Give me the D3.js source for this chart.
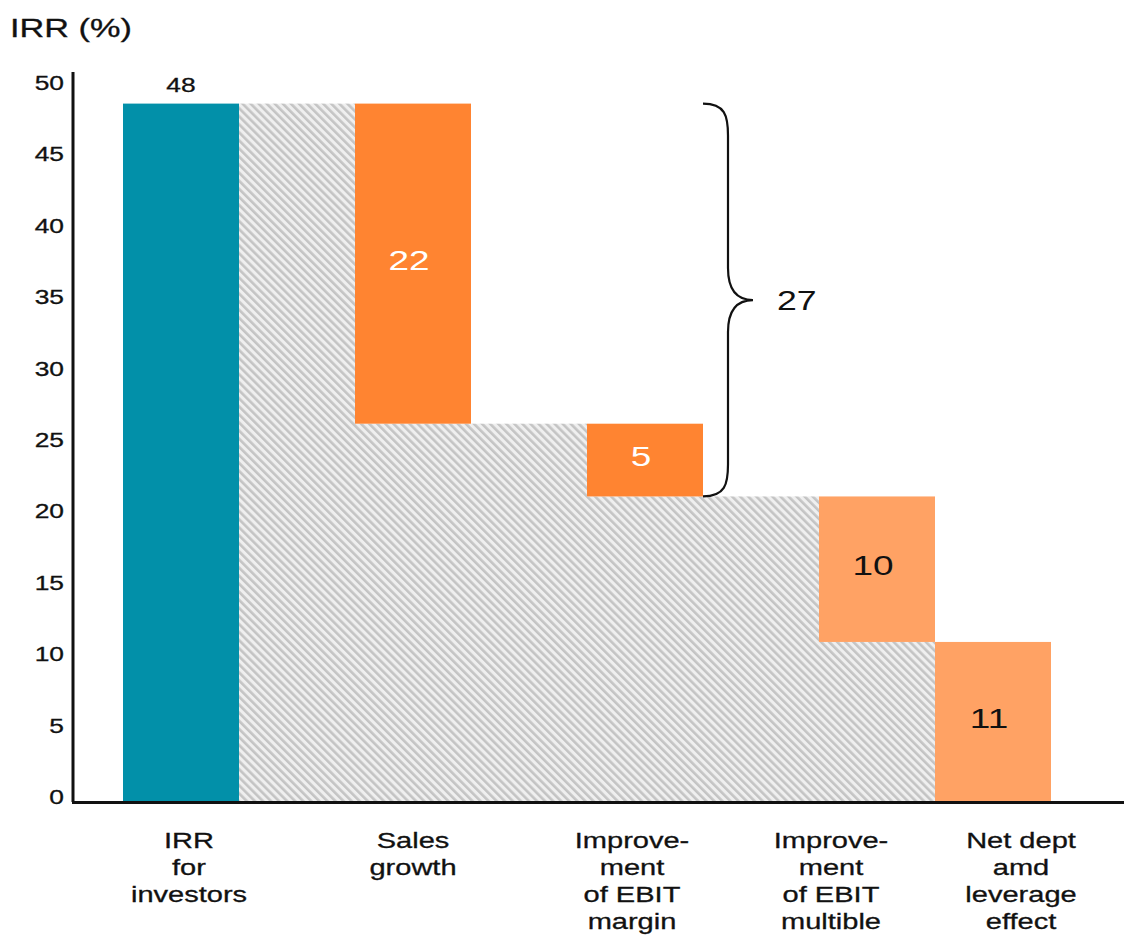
<!DOCTYPE html>
<html>
<head>
<meta charset="utf-8">
<script src="https://cdn.jsdelivr.net/npm/d3@7"></script>
<style>
  html, body { margin: 0; padding: 0; background: #fff; }
  svg { display: block; font-family: "Liberation Sans", Arial, Helvetica, sans-serif; }
  text { stroke-width: 0.3px; paint-order: stroke; }
</style>
</head>
<body>
<div id="chart"></div>
<script>
// chart values
const totalIRR = 48;
const contributions = [22, 5, 10, 11];
const categoryLines = [
  ['IRR', 'for', 'investors'],
  ['Sales', 'growth'],
  ['Improve-', 'ment', 'of EBIT', 'margin'],
  ['Improve-', 'ment', 'of EBIT', 'multible'],
  ['Net dept', 'amd', 'leverage', 'effect']
];
const yTicks = [0, 5, 10, 15, 20, 25, 30, 35, 40, 45, 50];

// layout
const width = 1124, height = 935;
const barColumn = [2, 4, 6, 7];       // column of each contribution bar
const labelShift = [8, 0, -13, -46, 28];
const SX = 1.32;                       // the original text is drawn wide
const COLORS = {
  total: '#0290a9',
  contrib: ['#ff8431', '#ff8431', '#ffa264', '#ffa264'],
  text: ['#fff', '#fff', '#111', '#111']
};

const svg = d3.select('#chart')
  .append('svg')
  .attr('width', width)
  .attr('height', height);

// places a wide text at x,y
const place = (x, y) => `translate(${x},${y}) scale(${SX},1)`;

// hatch pattern for the connectors
const defs = svg.append('defs');
const pat = defs.append('pattern')
  .attr('id', 'hatch')
  .attr('patternUnits', 'userSpaceOnUse')
  .attr('width', 5.7)
  .attr('height', 5.7)
  .attr('patternTransform', 'rotate(-45)');
pat.append('rect').attr('width', 5.7).attr('height', 5.7).attr('fill', '#efefef');
pat.append('rect').attr('width', 2.6).attr('height', 5.7).attr('fill', '#c4c4c4');

const xScale = d3.scaleBand()
  .domain(d3.range(8))
  .range([123, 1051])
  .padding(0);

const yScale = d3.scaleLinear()
  .domain([0, 50])
  .range([802, 74.5]);

// tick labels sit on their own spacing in the original
const yAxisScale = d3.scaleLinear()
  .domain([0, 50])
  .range([797, 83]);

// build bars
let running = totalIRR;
const bars = [];
const hatches = [{ col: 1, top: totalIRR }];
contributions.forEach((v, i) => {
  const col = barColumn[i];
  const prevCol = i === 0 ? 0 : barColumn[i - 1];
  if (i > 0) {
    for (let c = prevCol + 1; c < col; c++) hatches.push({ col: c, top: running });
  }
  bars.push({ col, top: running, bottom: running - v, value: v, i });
  if (running - v > 0) hatches.push({ col, top: running - v });
  running -= v;
});

svg.append('g')
  .selectAll('rect')
  .data(hatches)
  .enter()
  .append('rect')
  .attr('x', d => xScale(d.col))
  .attr('width', xScale.bandwidth())
  .attr('y', d => yScale(d.top))
  .attr('height', d => yScale(0) - yScale(d.top))
  .attr('fill', 'url(#hatch)');

// total bar
svg.append('rect')
  .attr('x', xScale(0))
  .attr('width', xScale.bandwidth())
  .attr('y', yScale(totalIRR))
  .attr('height', yScale(0) - yScale(totalIRR))
  .attr('fill', COLORS.total);

svg.append('text')
  .attr('transform', place(xScale(0) + xScale.bandwidth() / 2, yScale(totalIRR) - 12))
  .attr('text-anchor', 'middle')
  .attr('font-size', 20)
  .attr('fill', '#111')
  .attr('stroke', '#111')
  .text(totalIRR);

// contribution bars
svg.append('g')
  .selectAll('rect')
  .data(bars)
  .enter()
  .append('rect')
  .attr('x', d => xScale(d.col))
  .attr('width', xScale.bandwidth())
  .attr('y', d => yScale(d.top))
  .attr('height', d => yScale(d.bottom) - yScale(d.top))
  .attr('fill', d => COLORS.contrib[d.i]);

svg.append('g')
  .selectAll('text')
  .data(bars)
  .enter()
  .append('text')
  .attr('transform', d => place(
    xScale(d.col) + xScale.bandwidth() / 2 - 4,
    (yScale(d.top) + yScale(d.bottom)) / 2 - 4))
  .attr('dy', '0.36em')
  .attr('text-anchor', 'middle')
  .attr('font-size', 28)
  .attr('fill', d => COLORS.text[d.i])
  .text(d => d.value);

// y axis labels
const yAxis = d3.axisLeft(yAxisScale)
  .tickValues(yTicks)
  .tickSize(0)
  .tickPadding(9);
const gy = svg.append('g')
  .attr('transform', 'translate(73,0)')
  .call(yAxis);
gy.select('.domain').remove();
gy.selectAll('text')
  .attr('x', -9 / SX)
  .attr('transform', `scale(${SX},1)`)
  .attr('font-size', 20)
  .attr('font-family', '"Liberation Sans", Arial, sans-serif')
  .attr('fill', '#111')
  .attr('stroke', '#111');

// axis lines
svg.append('line')
  .attr('x1', 73).attr('x2', 73)
  .attr('y1', 72).attr('y2', yScale(0))
  .attr('stroke', '#111').attr('stroke-width', 3);
svg.append('line')
  .attr('x1', 72).attr('x2', width)
  .attr('y1', yScale(0) + 0.5).attr('y2', yScale(0) + 0.5)
  .attr('stroke', '#111').attr('stroke-width', 3);

// title
svg.append('text')
  .attr('transform', place(10, 37))
  .attr('font-size', 26)
  .attr('fill', '#111')
  .attr('stroke', '#111')
  .text('IRR (%)');

// category labels
const labelCols = [0].concat(barColumn);
const catG = svg.append('g')
  .selectAll('text')
  .data(categoryLines)
  .enter()
  .append('text')
  .attr('text-anchor', 'middle')
  .attr('font-size', 22)
  .attr('fill', '#111')
  .attr('stroke', '#111')
  .attr('transform', (d, i) => place(
    xScale(labelCols[i]) + xScale.bandwidth() / 2 + labelShift[i], 848));
catG.selectAll('tspan')
  .data(d => d)
  .enter()
  .append('tspan')
  .attr('x', 0)
  .attr('y', (d, j) => j * 27)
  .text(d => d);

// brace over sales growth + EBIT margin
const braceTop = totalIRR;
const braceBottom = totalIRR - contributions[0] - contributions[1];
const bx = xScale(barColumn[1]) + xScale.bandwidth();
const yt = yScale(braceTop), yb = yScale(braceBottom), ym = (yt + yb) / 2;
const bracePath = `M${bx},${yt}
  C${bx + 22},${yt} ${bx + 25},${yt + 12} ${bx + 25},${yt + 32}
  L${bx + 25},${ym - 32}
  C${bx + 25},${ym - 8} ${bx + 36},${ym} ${bx + 50},${ym}
  C${bx + 36},${ym} ${bx + 25},${ym + 8} ${bx + 25},${ym + 32}
  L${bx + 25},${yb - 32}
  C${bx + 25},${yb - 12} ${bx + 22},${yb} ${bx},${yb}`;
svg.append('path')
  .attr('d', bracePath)
  .attr('fill', 'none')
  .attr('stroke', '#111')
  .attr('stroke-width', 2.2);

svg.append('text')
  .attr('transform', place(bx + 74, ym))
  .attr('dy', '0.36em')
  .attr('font-size', 27)
  .attr('fill', '#111')
  .text(braceTop - braceBottom);
</script>
</body>
</html>
